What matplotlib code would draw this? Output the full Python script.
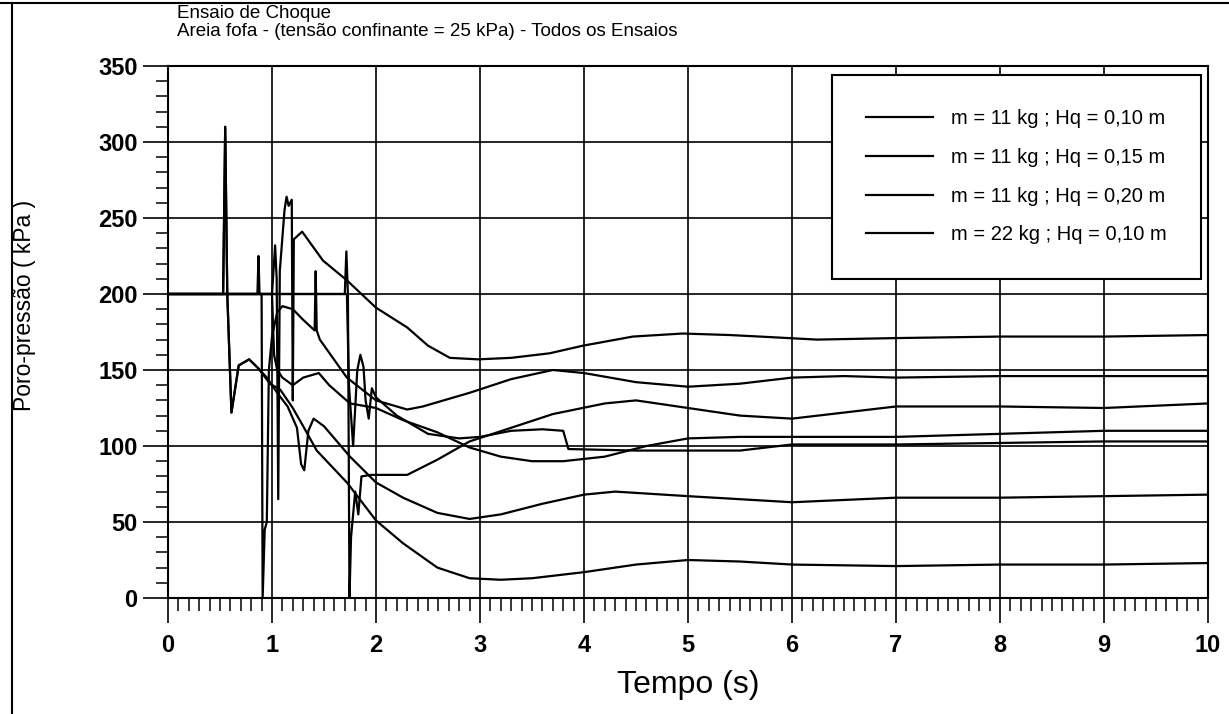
import numpy as np
import matplotlib
matplotlib.use("Agg")
import matplotlib.pyplot as plt
from matplotlib.lines import Line2D

plt.rcParams['font.family'] = ['Liberation Sans', 'DejaVu Sans']

# --- data (tempo [s], poro-pressao [kPa]) ---
# test m=11 kg ; Hq=0,10 m  (impact ~0.55 s) - two transducers
t_a = [0.0, 0.53, 0.55, 0.57, 0.61, 0.68, 0.78, 0.87, 0.98, 1.08, 1.2, 1.3, 1.43, 1.72,
       2.0, 2.26, 2.59, 2.9, 3.2, 3.5, 4.0, 4.5, 5.0, 5.5, 6.0, 7.0, 8.0, 9.0, 10.0]
p_a = [200, 200, 310, 200, 122, 153, 157, 151, 141, 137, 125, 113, 97, 76,
       51, 36, 20, 13, 12, 13, 17, 22, 25, 24, 22, 21, 22, 22, 23]
t_b = [0.0, 0.53, 0.55, 0.57, 0.61, 0.68, 0.78, 0.87, 0.95, 1.05, 1.15, 1.24, 1.28, 1.31,
       1.35, 1.4, 1.5, 1.75, 2.0, 2.26, 2.59, 2.9, 3.2, 3.6, 4.0, 4.3, 5.0, 5.5, 6.0,
       7.0, 8.0, 10.0]
p_b = [200, 200, 310, 200, 122, 153, 157, 151, 145, 135, 126, 112, 88, 84,
       110, 118, 113, 93, 76, 66, 56, 52, 55, 62, 68, 70, 67, 65, 63,
       66, 66, 68]

# test m=11 kg ; Hq=0,15 m  (impact ~0.9 s)
t_d = [0.0, 0.86, 0.87, 0.88, 0.9, 0.91, 0.93, 0.95, 0.97, 1.0, 1.05, 1.1, 1.2, 1.3,
       1.41, 1.42, 1.43, 1.46, 1.72, 2.0, 2.3, 2.45, 2.9, 3.3, 3.7, 4.0, 4.5, 5.0,
       5.5, 6.0, 6.5, 7.0, 8.0, 9.0, 10.0]
p_d = [200, 200, 225, 200, 200, 0, 45, 50, 150, 172, 188, 192, 190, 183,
       176, 215, 176, 170, 145, 130, 124, 126, 135, 144, 150, 148, 142, 139,
       141, 145, 146, 145, 146, 146, 146]
t_e = [0.0, 1.0, 1.02, 1.05, 1.1, 1.2, 1.3, 1.45, 1.55, 1.75, 2.0, 2.26, 2.59, 2.9,
       3.2, 3.5, 3.8, 4.2, 4.6, 5.0, 5.5, 6.0, 7.0, 8.0, 9.0, 10.0]
p_e = [200, 200, 160, 150, 145, 140, 145, 148, 140, 128, 125, 117, 109, 99,
       93, 90, 90, 93, 100, 105, 106, 106, 106, 108, 110, 110]

# test m=11 kg ; Hq=0,20 m  (impact ~1.0 s)
t_c1 = [0.0, 1.0, 1.03, 1.045, 1.06, 1.075, 1.12, 1.14, 1.16, 1.19, 1.2, 1.21, 1.29,
        1.49, 1.72, 2.0, 2.3, 2.5, 2.71, 2.98, 3.3, 3.67, 3.99, 4.47, 4.95, 5.4,
        5.69, 6.24, 7.0, 8.0, 9.0, 10.0]
p_c1 = [200, 200, 232, 210, 65, 215, 255, 264, 258, 262, 130, 236, 241,
        222, 209, 191, 178, 166, 158, 157, 158, 161, 166, 172, 174, 173,
        172, 170, 171, 172, 172, 173]

# test m=22 kg ; Hq=0,10 m  (impact ~1.72 s) - two transducers
t_c = [0.0, 1.70, 1.715, 1.73, 1.745, 1.76, 1.8, 1.83, 1.86, 1.95, 2.3, 2.59, 2.9,
       3.3, 3.7, 4.2, 4.5, 5.0, 5.5, 6.0, 6.5, 7.0, 8.0, 9.0, 10.0]
p_c = [200, 200, 228, 200, 0, 40, 70, 55, 80, 81, 81, 91, 103,
       112, 121, 128, 130, 125, 120, 118, 122, 126, 126, 125, 128]
t_f = [0.0, 1.72, 1.74, 1.78, 1.82, 1.85, 1.88, 1.9, 1.93, 1.96, 2.0, 2.2, 2.5, 2.8,
       3.0, 3.3, 3.6, 3.8, 3.85, 4.5, 5.5, 6.0, 7.0, 8.0, 9.0, 10.0]
p_f = [200, 200, 140, 100, 150, 160, 152, 130, 118, 138, 132, 120, 108, 105,
       106, 110, 111, 110, 98, 97, 97, 101, 101, 102, 103, 103]

labels = ['m = 11 kg ; Hq = 0,10 m', 'm = 11 kg ; Hq = 0,15 m',
          'm = 11 kg ; Hq = 0,20 m', 'm = 22 kg ; Hq = 0,10 m']
x_ticks = list(range(0, 11))
y_ticks = list(range(0, 351, 50))

fig = plt.figure(figsize=(12.29, 7.14), dpi=100)
ax = fig.add_axes([168 / 1229, 1 - 598 / 714, 1040 / 1229, 532 / 714])

lw = 1.6
tests = [[(t_a, p_a), (t_b, p_b)], [(t_d, p_d), (t_e, p_e)],
         [(t_c1, p_c1)], [(t_c, p_c), (t_f, p_f)]]
for lab, curves in zip(labels, tests):
    for i, (t, p) in enumerate(curves):
        ax.plot(t, p, color='black', lw=lw, label=lab if i == 0 else None, zorder=3)

ax.set_xlim(0, 10)
ax.set_ylim(0, 350)
ax.set_xticks(x_ticks)
ax.set_yticks(y_ticks)
ax.set_xticks(np.arange(0, 10.01, 0.1), minor=True)
ax.set_yticks(np.arange(0, 351, 10), minor=True)
ax.tick_params(which='major', direction='out', length=18, width=1.2, labelsize=17)
ax.tick_params(axis='x', which='major', pad=8)
ax.tick_params(axis='y', which='major', pad=4)
ax.tick_params(which='minor', direction='out', length=9, width=1.1)
for lab in ax.get_xticklabels() + ax.get_yticklabels():
    lab.set_fontweight('bold')
ax.grid(True, which='major', color='black', lw=1.2)
for s in ax.spines.values():
    s.set_linewidth(1.5)

ax.set_xlabel('Tempo (s)', fontsize=23)
ax.xaxis.set_label_coords(0.5, -0.135)
ax.set_ylabel('Poro-pressão ( kPa )', fontsize=16.5)
ax.yaxis.set_label_coords(-0.127, 0.55)

leg = ax.legend(loc='upper right', bbox_to_anchor=(0.993, 0.983), fontsize=14.5,
                frameon=True, fancybox=False, framealpha=1, edgecolor='black',
                handlelength=3.3, handletextpad=0.9, borderpad=1.7,
                labelspacing=0.98, borderaxespad=0)
leg.get_frame().set_linewidth(1.5)

fig.text(177 / 1229, 1 - 14 / 714, 'Ensaio de Choque', fontsize=13.5, va='center')
fig.text(177 / 1229, 1 - 32 / 714,
         'Areia fofa - (tensão confinante = 25 kPa) - Todos os Ensaios',
         fontsize=13.5, va='center')

# scanned page frame
fig.add_artist(Line2D([0, 1], [1 - 3 / 714] * 2, color='black', lw=1.5,
                      transform=fig.transFigure))
fig.add_artist(Line2D([12 / 1229] * 2, [0, 1 - 3 / 714], color='black', lw=1.5,
                      transform=fig.transFigure))

fig.savefig('out.png', dpi=100)
